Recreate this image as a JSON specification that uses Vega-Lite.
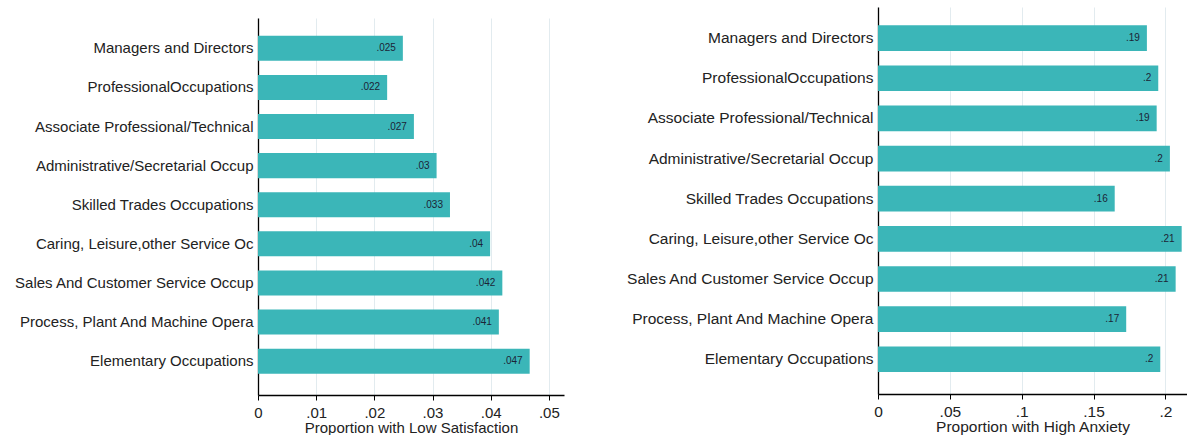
{
  "$schema": "https://vega.github.io/schema/vega-lite/v6.json",
  "background": "white",
  "padding": {"left": 13, "top": 6, "right": 0, "bottom": 0},
  "spacing": 61,
  "datasets": {
    "occ": [
      {"occupation": "Managers and  Directors", "low_sat": 0.0249, "low_label": ".025", "high_anx": 0.1871, "anx_label": ".19"},
      {"occupation": "ProfessionalOccupations", "low_sat": 0.0222, "low_label": ".022", "high_anx": 0.1950, "anx_label": ".2"},
      {"occupation": "Associate Professional/Technical", "low_sat": 0.0268, "low_label": ".027", "high_anx": 0.1939, "anx_label": ".19"},
      {"occupation": "Administrative/Secretarial Occup", "low_sat": 0.0307, "low_label": ".03", "high_anx": 0.2031, "anx_label": ".2"},
      {"occupation": "Skilled Trades Occupations", "low_sat": 0.0330, "low_label": ".033", "high_anx": 0.1647, "anx_label": ".16"},
      {"occupation": "Caring, Leisure,other Service Oc", "low_sat": 0.0399, "low_label": ".04", "high_anx": 0.2113, "anx_label": ".21"},
      {"occupation": "Sales And Customer Service Occup", "low_sat": 0.0420, "low_label": ".042", "high_anx": 0.2071, "anx_label": ".21"},
      {"occupation": "Process, Plant And Machine Opera", "low_sat": 0.0414, "low_label": ".041", "high_anx": 0.1727, "anx_label": ".17"},
      {"occupation": "Elementary Occupations", "low_sat": 0.0467, "low_label": ".047", "high_anx": 0.1964, "anx_label": ".2"}
    ],
    "blank": [{}]
  },
  "config": {
    "view": {"stroke": null},
    "font": "Liberation Sans",
    "axis": {
      "labelFont": "Liberation Sans",
      "titleFont": "Liberation Sans",
      "labelColor": "#222",
      "titleColor": "#222",
      "labelFontSize": 15,
      "titleFontSize": 15,
      "titleFontWeight": "normal",
      "domainColor": "#000",
      "domainWidth": 1.3,
      "tickColor": "#000",
      "gridColor": "#e2ebef",
      "gridWidth": 1
    }
  },
  "hconcat": [
    {
      "spacing": 0,
      "vconcat": [
        {
          "width": 306,
          "height": 11,
          "data": {"name": "blank"},
          "mark": {"type": "text", "text": ""},
          "encoding": {}
        },
        {
          "width": 306,
          "height": 377,
          "data": {"name": "occ"},
          "encoding": {
            "y": {
              "field": "occupation", "type": "nominal", "sort": null,
              "scale": {"paddingInner": 0.36, "paddingOuter": 0.5, "align": 0.455},
              "axis": {"title": null, "ticks": false, "labelPadding": 5, "minExtent": 245, "maxExtent": 245, "labelLimit": 400, "grid": false}
            },
            "x": {
              "field": "low_sat", "type": "quantitative",
              "scale": {"domain": [0, 0.0526], "nice": false},
              "axis": {
                "title": "Proportion with Low Satisfaction",
                "values": [0, 0.01, 0.02, 0.03, 0.04, 0.05],
                "labelExpr": "datum.value == 0 ? '0' : substring(format(datum.value, ''), 1)",
                "grid": true, "tickSize": 5, "labelPadding": 5, "titlePadding": 0, "labelFlush": false
              }
            }
          },
          "layer": [
            {"mark": {"type": "bar", "color": "#3bb6b8"}},
            {"mark": {"type": "text", "align": "right", "baseline": "middle", "dx": -7, "fontSize": 10, "color": "#1b2436", "font": "Liberation Sans"},
             "encoding": {"text": {"field": "low_label"}}}
          ]
        }
      ]
    },
    {
      "width": 309,
      "height": 387,
      "data": {"name": "occ"},
      "encoding": {
        "y": {
          "field": "occupation", "type": "nominal", "sort": null,
          "scale": {"paddingInner": 0.36, "paddingOuter": 0.5, "align": 0.455},
          "axis": {"title": null, "ticks": false, "labelPadding": 5, "minExtent": 250, "maxExtent": 250, "labelLimit": 400, "grid": false, "labelFontSize": 15.5}
        },
        "x": {
          "field": "high_anx", "type": "quantitative",
          "scale": {"domain": [0, 0.215], "nice": false},
          "axis": {
            "title": "Proportion with High Anxiety",
            "values": [0, 0.05, 0.1, 0.15, 0.2],
            "labelExpr": "datum.value == 0 ? '0' : substring(format(datum.value, ''), 1)",
            "grid": true, "tickSize": 5, "labelPadding": 5, "titlePadding": 0, "labelFlush": false,
            "labelFontSize": 15.5, "titleFontSize": 15.5
          }
        }
      },
      "layer": [
        {"mark": {"type": "bar", "color": "#3bb6b8"}},
        {"mark": {"type": "text", "align": "right", "baseline": "middle", "dx": -7, "fontSize": 10, "color": "#1b2436", "font": "Liberation Sans"},
         "encoding": {"text": {"field": "anx_label"}}}
      ]
    }
  ]
}
